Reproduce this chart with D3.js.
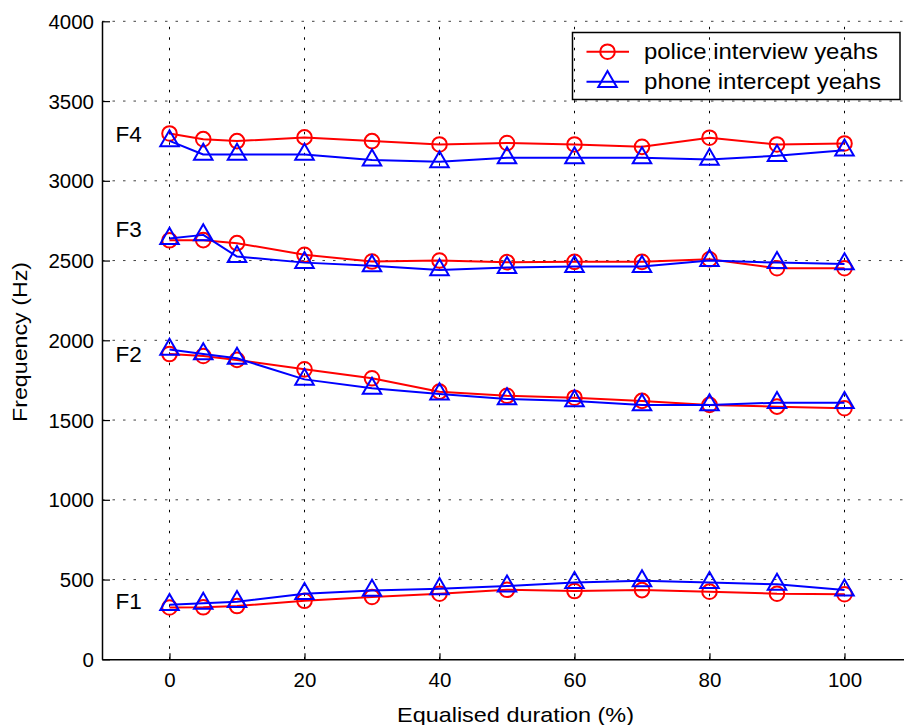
<!DOCTYPE html>
<html>
<head>
<meta charset="utf-8">
<script src="https://cdn.jsdelivr.net/npm/d3@7/dist/d3.min.js"></script>
<style>
  html, body { margin: 0; padding: 0; background: #fff; }
  svg { display: block; }
  text { font-family: "Liberation Sans", Arial, Helvetica, sans-serif; fill: #000; }
</style>
</head>
<body>
<script>
// Sample positions along the equalised duration (%)
const durations = [0, 5, 10, 20, 30, 40, 50, 60, 70, 80, 90, 100];

// Formant frequencies (Hz), police interview tokens
const policeF1 = [325, 326, 334, 367, 391, 411, 436, 428, 434, 424, 411, 408];
const policeF2 = [1914, 1902, 1877, 1818, 1762, 1678, 1652, 1640, 1620, 1595, 1584, 1574];
const policeF3 = [2627, 2628, 2609, 2536, 2494, 2500, 2490, 2492, 2492, 2508, 2452, 2452];
const policeF4 = [3297, 3261, 3249, 3272, 3249, 3228, 3237, 3228, 3213, 3270, 3228, 3234];

// Formant frequencies (Hz), phone intercept tokens
const phoneF1 = [342, 351, 361, 411, 432, 442, 459, 481, 492, 481, 470, 434];
const phoneF2 = [1943, 1914, 1887, 1755, 1699, 1663, 1632, 1620, 1595, 1595, 1609, 1609];
const phoneF3 = [2638, 2661, 2525, 2487, 2467, 2441, 2456, 2462, 2462, 2500, 2487, 2479];
const phoneF4 = [3250, 3165, 3165, 3165, 3130, 3119, 3144, 3144, 3144, 3134, 3157, 3192];

const xTicks = [0, 20, 40, 60, 80, 100];
const yTicks = [0, 500, 1000, 1500, 2000, 2500, 3000, 3500, 4000];

const formantLabels = ["F1", "F2", "F3", "F4"];
const formantLabelY = [609, 362, 237, 141.5];

const seriesNames = ["police interview yeahs", "phone intercept yeahs"];

const W = 904, H = 725;
const svg = d3.select("body").append("svg").attr("width", W).attr("height", H);

const x = d3.scaleLinear().domain([-10, 110]).range([102, 912]);
const y = d3.scaleLinear().domain([0, 4000]).range([659.3, 21.3]);

// Dotted grid
const grid = svg.append("g").attr("stroke", "#000").attr("stroke-width", 1)
  .attr("stroke-dasharray", "2.5,8");
grid.selectAll("line.h").data(yTicks.filter(d => d > 0)).join("line")
  .attr("x1", x(-10)).attr("x2", x(110))
  .attr("y1", d => y(d)).attr("y2", d => y(d))
  .attr("stroke-opacity", 0.75);
grid.selectAll("line.v").data(xTicks).join("line")
  .attr("x1", d => x(d)).attr("x2", d => x(d))
  .attr("y1", y(0)).attr("y2", y(4000));

// Axes with inward ticks
const fmt = d3.format("d");
const xAxis = svg.append("g").attr("transform", `translate(0,${y(0)})`)
  .call(d3.axisBottom(x).tickValues(xTicks).tickFormat(fmt).tickSizeInner(-6).tickSizeOuter(0));
const yAxis = svg.append("g").attr("transform", `translate(${x(-10)},0)`)
  .call(d3.axisLeft(y).tickValues(yTicks).tickFormat(fmt).tickSizeInner(-8).tickSizeOuter(0));
[xAxis, yAxis].forEach(a => {
  a.select(".domain").attr("stroke", "#000").attr("stroke-width", 1.5);
  a.selectAll(".tick line").attr("stroke", "#000").attr("stroke-width", 1.2);
  a.selectAll(".tick text").attr("font-size", 20.5)
    .attr("font-family", "Liberation Sans, Arial, sans-serif").attr("fill", "#000");
});
xAxis.selectAll(".tick text").attr("dy", "0.35em").attr("y", 21);
yAxis.selectAll(".tick text").attr("x", -8).attr("dy", "0.35em");

// Axis titles
svg.append("text").attr("x", 515.5).attr("y", 721.5).attr("text-anchor", "middle")
  .attr("font-size", 21).attr("textLength", 237).attr("lengthAdjust", "spacingAndGlyphs")
  .text("Equalised duration (%)");
svg.append("text").attr("transform", "translate(27,342) rotate(-90)")
  .attr("text-anchor", "middle").attr("font-size", 21)
  .attr("textLength", 160).attr("lengthAdjust", "spacingAndGlyphs")
  .text("Frequency (Hz)");

// Formant labels
svg.selectAll("text.flabel").data(formantLabels).join("text")
  .attr("class", "flabel").attr("x", 115.5).attr("y", (d, i) => formantLabelY[i])
  .attr("font-size", 22.5).text(d => d);

// Markers
const triPath = (s) => {
  const h = s * Math.sqrt(3) / 2;
  return `M0,${-2 * h / 3}L${s / 2},${h / 3}L${-s / 2},${h / 3}Z`;
};
function drawMarker(g, kind, color) {
  if (kind === "circle") {
    g.append("circle").attr("r", 7.3).attr("fill", "none")
      .attr("stroke", color).attr("stroke-width", 2);
  } else {
    g.append("path").attr("d", triPath(18.5)).attr("fill", "none")
      .attr("stroke", color).attr("stroke-width", 2).attr("stroke-linejoin", "miter");
  }
}

const series = [
  { name: seriesNames[0], color: "#ff0000", marker: "circle", formants: [policeF1, policeF2, policeF3, policeF4] },
  { name: seriesNames[1], color: "#0000ff", marker: "triangle", formants: [phoneF1, phoneF2, phoneF3, phoneF4] }
];

const line = d3.line().x(d => x(d[0])).y(d => y(d[1]));

series.forEach(s => {
  const g = svg.append("g");
  s.formants.forEach(vals => {
    const pts = durations.map((d, i) => [d, vals[i]]);
    g.append("path").datum(pts).attr("d", line).attr("fill", "none")
      .attr("stroke", s.color).attr("stroke-width", 2).attr("stroke-linejoin", "round");
    pts.forEach(p => {
      const m = g.append("g").attr("transform", `translate(${x(p[0])},${y(p[1])})`);
      drawMarker(m, s.marker, s.color);
    });
  });
});

// Legend (no fill, grid remains visible behind it)
const legend = svg.append("g");
legend.append("rect").attr("x", 572.5).attr("y", 32.5).attr("width", 327.5).attr("height", 67)
  .attr("fill", "none").attr("stroke", "#000").attr("stroke-width", 1.5);
const legendY = [51.7, 81.7];
const legendLen = [234, 237];
series.forEach((s, i) => {
  legend.append("line").attr("x1", 586.5).attr("x2", 629).attr("y1", legendY[i]).attr("y2", legendY[i])
    .attr("stroke", s.color).attr("stroke-width", 2);
  const m = legend.append("g").attr("transform", `translate(607.5,${legendY[i]})`);
  drawMarker(m, s.marker, s.color);
  legend.append("text").attr("x", 644).attr("y", legendY[i] + 7.5)
    .attr("font-size", 22).attr("textLength", legendLen[i]).attr("lengthAdjust", "spacingAndGlyphs")
    .text(s.name);
});
</script>
</body>
</html>
